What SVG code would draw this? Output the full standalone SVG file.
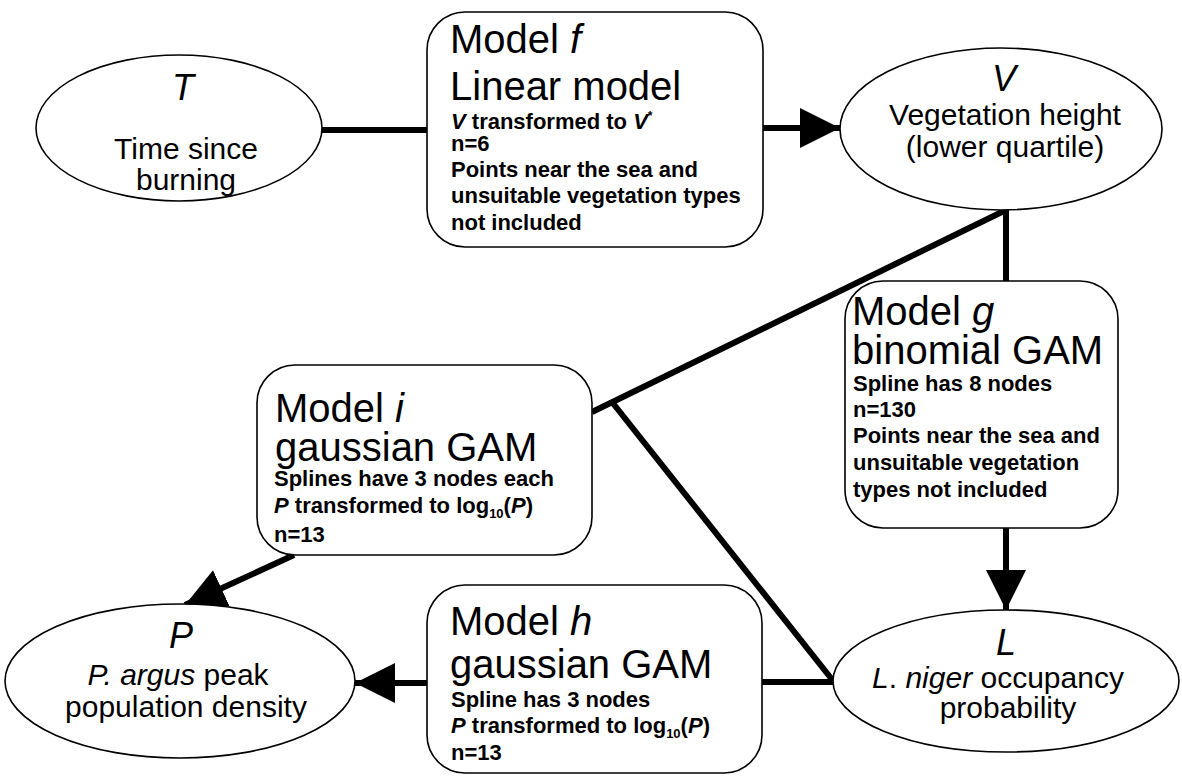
<svg xmlns="http://www.w3.org/2000/svg" width="1182" height="778" viewBox="0 0 1182 778">
<style>
text{font-family:"Liberation Sans",Arial,Helvetica,sans-serif;fill:#000}
.shape{fill:#fff;stroke:#000;stroke-width:1.6}
.lbl{font-size:30px;text-anchor:middle}
.var{font-size:36px;font-style:italic;text-anchor:middle}
.title{font-size:40px}
.small{font-size:22px;font-weight:bold}
.conn{stroke:#000;stroke-width:6;fill:none}
.it{font-style:italic}
</style>
<defs>
<marker id="arrow" markerUnits="userSpaceOnUse" markerWidth="42" markerHeight="42" refX="40" refY="20" orient="auto">
<path d="M0,0 L40,20 L0,40 Z" fill="#000"/>
</marker>
</defs>
<rect width="1182" height="778" fill="#fff"/>
<g id="connectors">
<line class="conn" x1="322" y1="130" x2="428" y2="130"/>
<line class="conn" x1="762" y1="128" x2="840" y2="128" marker-end="url(#arrow)"/>
<line class="conn" x1="1006" y1="210" x2="1006" y2="282"/>
<line class="conn" x1="1006" y1="528" x2="1006" y2="610" marker-end="url(#arrow)"/>
<line class="conn" x1="1006" y1="210" x2="592" y2="412"/>
<line class="conn" x1="612" y1="402" x2="834" y2="682"/>
<line class="conn" x1="762" y1="682" x2="834" y2="682"/>
<line class="conn" x1="428" y1="683" x2="355" y2="683" marker-end="url(#arrow)"/>
<line class="conn" x1="294" y1="555" x2="185" y2="605" marker-end="url(#arrow)"/>
</g>
<g id="node-T">
<ellipse class="shape" cx="179" cy="128" rx="143" ry="73"/>
<text class="var" x="183" y="100">T</text>
<text class="lbl" x="186" y="159">Time since</text>
<text class="lbl" x="186" y="190">burning</text>
</g>
<g id="node-f">
<rect class="shape" x="427" y="12" width="336" height="235" rx="38" ry="38"/>
<text class="title" x="450" y="53">Model <tspan class="it">f</tspan></text>
<text class="title" x="450" y="100">Linear model</text>
<text class="small" x="451" y="129"><tspan class="it">V</tspan> transformed to <tspan class="it">V</tspan><tspan font-size="12" dy="-9">*</tspan></text>
<text class="small" x="451" y="151">n=6</text>
<text class="small" x="451" y="177">Points near the sea and</text>
<text class="small" x="451" y="203">unsuitable vegetation types</text>
<text class="small" x="451" y="230">not included</text>
</g>
<g id="node-V">
<ellipse class="shape" cx="1001" cy="129" rx="161" ry="81"/>
<text class="var" x="1004" y="91">V</text>
<text class="lbl" x="1005" y="125">Vegetation height</text>
<text class="lbl" x="1005" y="157">(lower quartile)</text>
</g>
<g id="node-g">
<rect class="shape" x="845" y="281" width="273" height="247" rx="38" ry="38"/>
<text class="title" x="852" y="325">Model <tspan class="it">g</tspan></text>
<text class="title" x="852" y="364">binomial GAM</text>
<text class="small" x="853" y="391">Spline has 8 nodes</text>
<text class="small" x="853" y="417">n=130</text>
<text class="small" x="853" y="443">Points near the sea and</text>
<text class="small" x="853" y="470">unsuitable vegetation</text>
<text class="small" x="853" y="497">types not included</text>
</g>
<g id="node-i">
<rect class="shape" x="257" y="365" width="335" height="190" rx="38" ry="38"/>
<text class="title" x="275" y="422">Model <tspan class="it">i</tspan></text>
<text class="title" x="275" y="461">gaussian GAM</text>
<text class="small" x="274" y="486">Splines have 3 nodes each</text>
<text class="small" x="274" y="513"><tspan class="it">P</tspan> transformed to log<tspan font-size="13" dy="5">10</tspan><tspan dy="-5">(</tspan><tspan class="it">P</tspan>)</text>
<text class="small" x="274" y="542">n=13</text>
</g>
<g id="node-h">
<rect class="shape" x="427" y="585" width="335" height="188" rx="38" ry="38"/>
<text class="title" x="450" y="635">Model <tspan class="it">h</tspan></text>
<text class="title" x="450" y="678">gaussian GAM</text>
<text class="small" x="451" y="707">Spline has 3 nodes</text>
<text class="small" x="451" y="733"><tspan class="it">P</tspan> transformed to log<tspan font-size="13" dy="5">10</tspan><tspan dy="-5">(</tspan><tspan class="it">P</tspan>)</text>
<text class="small" x="451" y="760">n=13</text>
</g>
<g id="node-L">
<ellipse class="shape" cx="1006" cy="681" rx="173" ry="71"/>
<text class="var" x="1006" y="655">L</text>
<text class="lbl" x="998" y="688"><tspan class="it">L</tspan>. <tspan class="it">niger</tspan> occupancy</text>
<text class="lbl" x="1008" y="718">probability</text>
</g>
<g id="node-P">
<ellipse class="shape" cx="180" cy="681" rx="175" ry="77"/>
<text class="var" x="181" y="648">P</text>
<text class="lbl" x="178" y="685"><tspan class="it">P. argus</tspan> peak</text>
<text class="lbl" x="186" y="717">population density</text>
</g>
</svg>
